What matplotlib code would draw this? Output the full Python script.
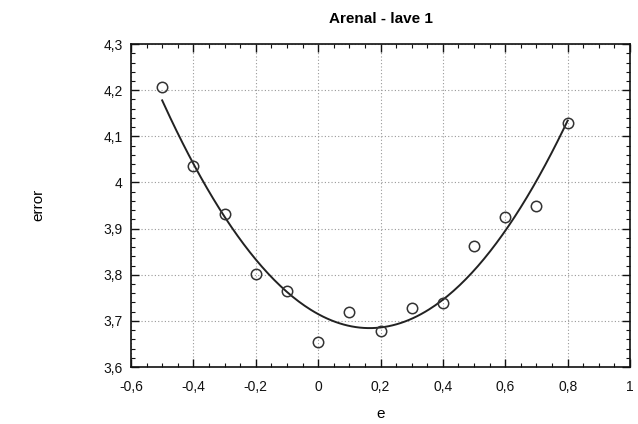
import numpy as np
import matplotlib
matplotlib.use("Agg")
import matplotlib.pyplot as plt
from matplotlib.ticker import MultipleLocator, FuncFormatter

plt.rcParams['font.family'] = ['Liberation Sans', 'DejaVu Sans']

e_vals = [-0.5, -0.4, -0.3, -0.2, -0.1, 0.0, 0.1, 0.2, 0.3, 0.4, 0.5, 0.6, 0.7, 0.8]
err_vals = [4.206, 4.036, 3.931, 3.801, 3.765, 3.654, 3.720, 3.678, 3.728, 3.739, 3.862, 3.926, 3.949, 4.128]

coef = np.polyfit(e_vals, err_vals, 2)
xs = np.linspace(min(e_vals), max(e_vals), 200)
ys = np.polyval(coef, xs)

fig = plt.figure(figsize=(6.38, 4.24), dpi=100)
ax = fig.add_axes([0.2053, 0.1344, 0.7822, 0.7616])

ax.plot(xs, ys, color='#222222', lw=1.4)
ax.plot(e_vals, err_vals, 'o', mfc='none', mec='#333333', ms=7.5, mew=1.1)

ax.set_xlim(-0.6, 1.0)
ax.set_ylim(3.6, 4.3)
ax.xaxis.set_major_locator(MultipleLocator(0.2))
ax.xaxis.set_minor_locator(MultipleLocator(0.05))
ax.yaxis.set_major_locator(MultipleLocator(0.1))
ax.yaxis.set_minor_locator(MultipleLocator(0.02))

def fmt(v, pos):
    s = ('%.1f' % v).rstrip('0').rstrip('.')
    if s == '-0':
        s = '0'
    return s.replace('.', ',')

ax.xaxis.set_major_formatter(FuncFormatter(fmt))
ax.yaxis.set_major_formatter(FuncFormatter(fmt))

ax.tick_params(which='both', direction='in', top=True, right=True, colors='#111111', labelsize=10)
ax.tick_params(which='major', length=6, width=1)
ax.tick_params(which='minor', length=3, width=0.8)
ax.tick_params(axis='x', pad=9)
ax.tick_params(axis='y', pad=6)

ax.grid(True, which='major', linestyle=(0, (1, 2)), color='#999999', lw=0.8)
for s in ax.spines.values():
    s.set_linewidth(1.2)
    s.set_color('#111111')

ax.set_title('Arenal - lave 1', fontsize=11, fontweight='bold', pad=15)
ax.set_xlabel('e', fontsize=11, labelpad=10)
fig.text(38/638, 1 - 205/424, 'error', rotation=90, ha='center', va='center', fontsize=11)

fig.savefig('out.png', dpi=100, facecolor='white')
